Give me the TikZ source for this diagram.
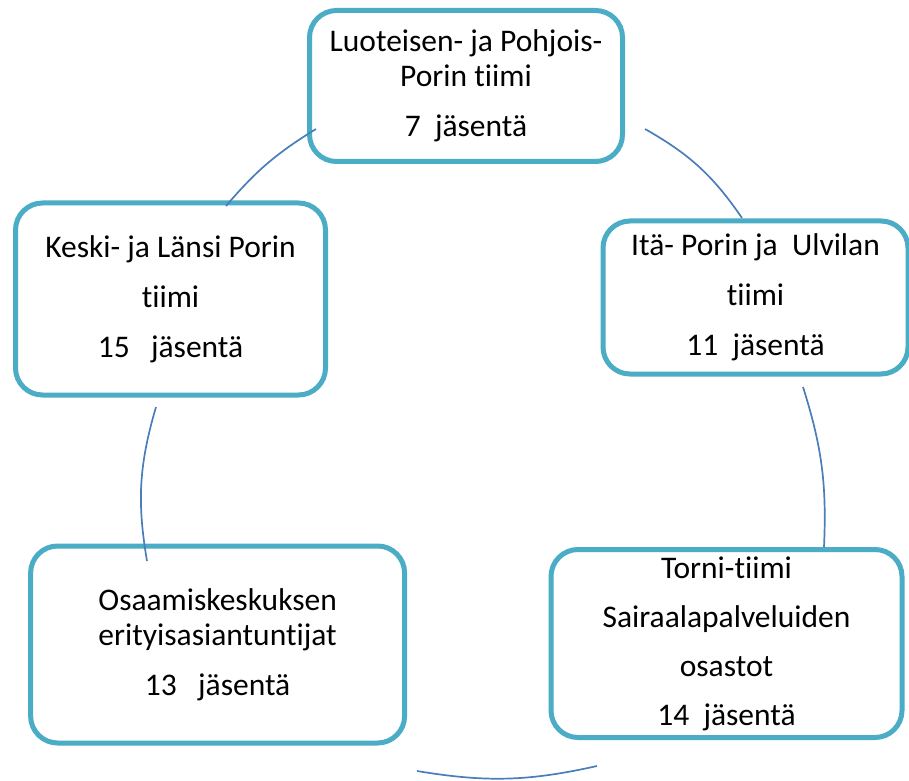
\documentclass[tikz,border=0pt]{standalone}
\usepackage{fontspec}
\setmainfont{Carlito}[Ligatures=NoCommon]
\definecolor{teamborder}{HTML}{4BACC6}
\definecolor{linkblue}{HTML}{4A7EBB}

\begin{document}
\begin{tikzpicture}[x=1pt, y=1pt,
    team/.style={draw=teamborder, line width=5pt, fill=white, rounded corners=27pt,
      align=center, inner sep=0pt, font=\fontsize{31.5}{35}\selectfont},
    link/.style={draw=linkblue, line width=1.7pt}]
  % Page size
  \useasboundingbox (0, 0) rectangle (909, 780);

  % Teams
  \node[team, minimum width=313, minimum height=151] (luoteis) at (466, 694)
    {Luoteisen- ja Pohjois-\\Porin tiimi\\[15pt]7~ jäsentä};
  \node[team, minimum width=310, minimum height=192] (keskiLansi) at (170.5, 481)
    {Keski- ja Länsi Porin\\[15pt]tiimi\\[15pt]15~~ jäsentä};
  \node[team, minimum width=305, minimum height=153] (itaUlvila) at (755.5, 482.5)
    {Itä- Porin ja~ Ulvilan\\[15pt]tiimi\\[15pt]11~ jäsentä};
  \node[team, minimum width=374, minimum height=197] (osaamis) at (217.6, 135.5)
    {Osaamiskeskuksen\\erityisasiantuntijat\\[15pt]13~~ jäsentä};
  \node[team, minimum width=351, minimum height=188] (torni) at (726.5, 136.5)
    {Torni-tiimi\\[14pt]Sairaalapalveluiden\\[14pt]osastot\\[14pt]14~ jäsentä};

  % Arc ends
  \coordinate (arcA1) at (226, 574);
  \coordinate (arcA2) at (316, 651);
  \coordinate (arcB1) at (645, 651);
  \coordinate (arcB2) at (742, 562);
  \coordinate (arcC1) at (803, 393);
  \coordinate (arcC2) at (824, 233);
  \coordinate (arcD1) at (417, 9);
  \coordinate (arcD2) at (597, 14);
  \coordinate (arcE1) at (156, 373);
  \coordinate (arcE2) at (147, 219);

  % Cycle arcs
  \draw[link] (arcA1) to[bend left=9] (arcA2);
  \draw[link] (arcB1) to[bend left=13] (arcB2);
  \draw[link] (arcC1) to[bend left=10] (arcC2);
  \draw[link] (arcD1) to[bend right=11] (arcD2);
  \draw[link] (arcE1) to[bend right=13] (arcE2);

\end{tikzpicture}
\end{document}
